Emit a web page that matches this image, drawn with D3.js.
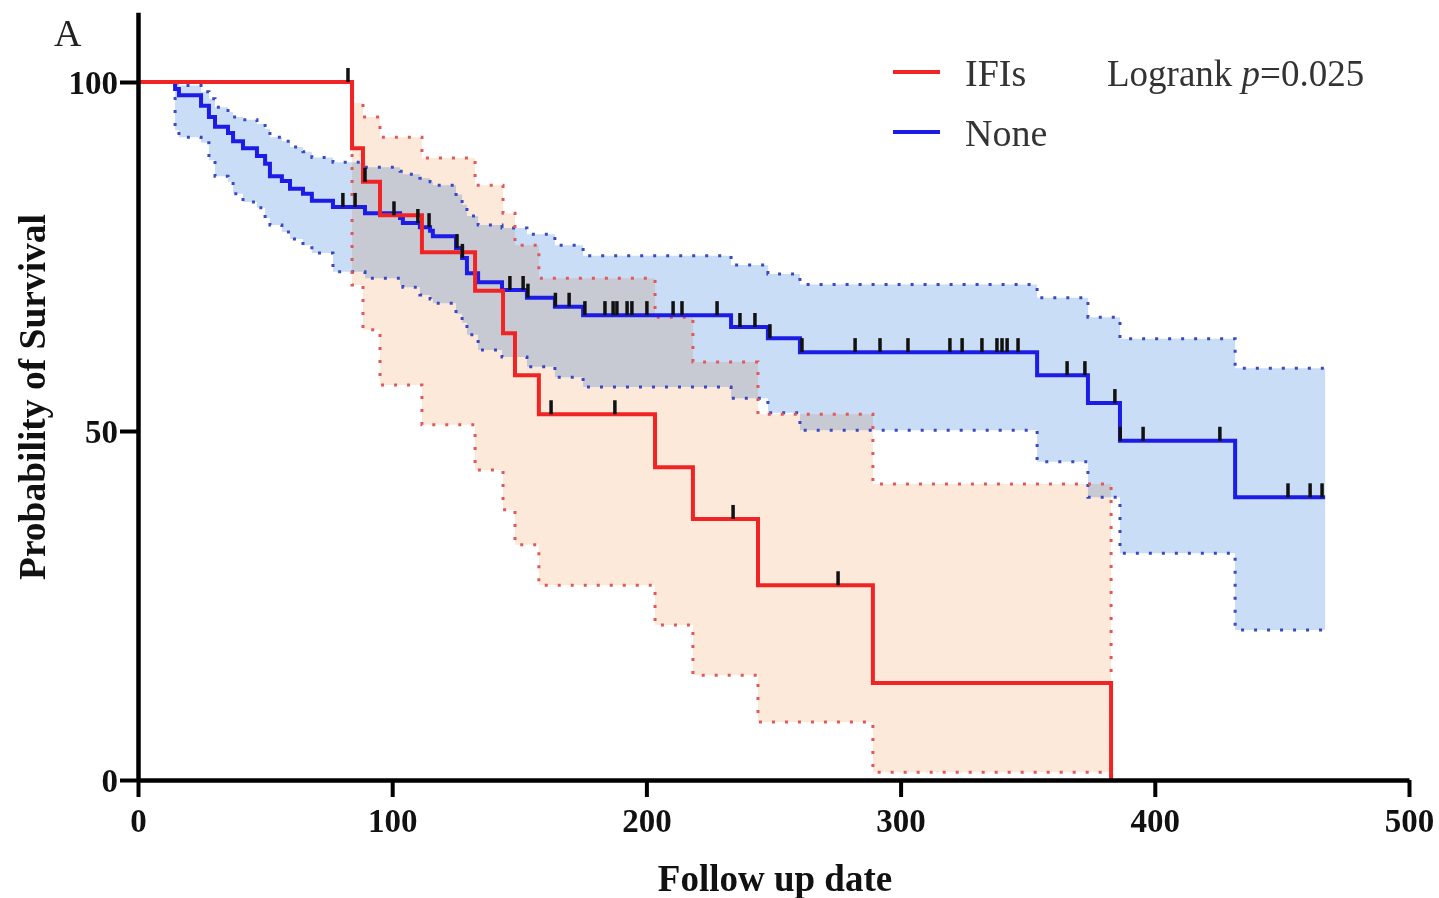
<!DOCTYPE html>
<html>
<head>
<meta charset="utf-8">
<script src="https://cdn.jsdelivr.net/npm/d3@7"></script>
<style>
  body { margin: 0; background: #fff; }
  text { font-family: "Liberation Serif", "Times New Roman", serif; }
</style>
</head>
<body>
<svg id="chart" width="1439" height="898"></svg>
<script>
// IFIs group
const ifiTimes = [84.2, 88.5, 95.2, 111.7, 132.6, 143.6, 148.3, 157.7, 203.4, 218.3, 243.9, 289.1, 382.8];
const ifiSurv = [90.5, 85.7, 80.9, 75.6, 70.1, 64.0, 58.0, 52.4, 44.8, 37.4, 27.9, 13.9, 0];
const ifiUpper = [97.0, 95.0, 92.1, 89.1, 85.2, 81.2, 76.6, 71.9, 66.3, 59.9, 52.4, 42.4, 0];
const ifiLower = [70.9, 64.5, 56.6, 50.9, 44.4, 38.7, 33.7, 27.9, 22.2, 15.0, 8.3, 1.1, 0];
const ifiCensor = [82.6, 89.3, 100.7, 162.5, 187.6, 234.1, 275.4];
const ifiEnd = 382.8;

// None group
const noneTimes = [14.6, 16.1, 24.8, 27.9, 30.3, 35.4, 37.4, 41.3, 46.8, 50.0, 51.9, 56.6, 59.8, 64.9, 68.4, 76.7,
  89.3, 103.1, 104.2, 110.9, 114.9, 116.0, 125.1, 127.5, 129.4, 133.8, 143.2, 153.0, 164.0, 175.1, 233.3, 247.8,
  260.4, 353.7, 373.7, 386.3, 431.6];
const noneSurv = [99.0, 98.1, 96.6, 95.0, 93.6, 92.7, 91.5, 90.5, 89.4, 88.3, 86.5, 85.8, 84.7, 84.0, 83.0, 82.1,
  81.2, 80.5, 79.8, 79.2, 78.7, 77.9, 76.2, 74.8, 72.6, 71.3, 70.2, 69.1, 67.8, 66.6, 64.9, 63.3,
  61.3, 58.0, 54.0, 48.6, 40.5];
const noneUpper = [99.9, 99.5, 98.6, 97.6, 96.4, 95.7, 95.0, 94.6, 94.0, 93.3, 92.1, 91.5, 90.7, 90.0, 89.2, 88.5,
  87.8, 87.2, 86.8, 86.2, 85.7, 85.2, 83.9, 82.4, 80.8, 79.5, 79.1, 78.2, 76.6, 75.1, 73.8, 72.5,
  71.0, 69.1, 66.3, 63.2, 59.0];
const noneLower = [93.1, 92.1, 91.3, 88.8, 86.5, 85.7, 84.0, 82.8, 82.0, 80.5, 79.5, 78.5, 77.5, 76.6, 75.5, 72.8,
  71.9, 70.9, 70.6, 69.5, 68.9, 68.3, 66.8, 65.5, 63.8, 61.6, 60.6, 59.2, 57.7, 56.3, 54.7, 52.6,
  50.1, 45.6, 40.5, 32.5, 21.5];
const noneCensor = [80.6, 85.4, 110.1, 114.5, 125.5, 127.6, 146.3, 151.5, 153.4, 164.2, 169.6, 175.8, 183.7, 186.9,
  188.4, 192.4, 194.3, 200.2, 210.5, 214.0, 227.8, 236.8, 242.7, 248.6, 261.2, 282.1, 291.9, 302.9, 319.4, 324.2,
  332.0, 337.9, 339.9, 341.9, 346.2, 365.5, 372.5, 384.3, 386.4, 395.4, 425.6, 452.4, 461.1, 465.8];
const noneEnd = 467;

const xTicks = [0, 100, 200, 300, 400, 500];
const yTicks = [0, 50, 100];

const svg = d3.select("#chart");
svg.append("rect").attr("width", 1439).attr("height", 898).attr("fill", "#fff");

const x = d3.scaleLinear().domain([0, 500]).range([138, 1409]);
const y = d3.scaleLinear().domain([0, 110]).range([780, 12.2]);

function steps(times, vals, end) {
  let pts = [[0, 100]];
  times.forEach((t, i) => pts.push([t, vals[i]]));
  pts.push([end, vals[vals.length - 1]]);
  return pts;
}
function band(times, lo, hi, end) {
  let pts = [[0, 100, 100]];
  times.forEach((t, i) => pts.push([t, lo[i], hi[i]]));
  pts.push([end, lo[lo.length - 1], hi[hi.length - 1]]);
  return pts;
}
function survAt(times, vals, t) {
  let s = 100;
  times.forEach((tt, i) => { if (tt <= t) s = vals[i]; });
  return s;
}

const line = d3.line().curve(d3.curveStepAfter).x(d => x(d[0])).y(d => y(d[1]));
const area = d3.area().curve(d3.curveStepAfter).x(d => x(d[0])).y0(d => y(d[1])).y1(d => y(d[2]));

const groups = [
  { name: "None", times: noneTimes, surv: noneSurv, up: noneUpper, lo: noneLower, cens: noneCensor, end: noneEnd,
    line: "#1c1ce6", fill: "#c9ddf7", dot: "#3a48c4" },
  { name: "IFIs", times: ifiTimes, surv: ifiSurv, up: ifiUpper, lo: ifiLower, cens: ifiCensor, end: ifiEnd,
    line: "#f02424", fill: "#fde9da", dot: "#e25858" }
];

// confidence bands
groups.forEach(g => {
  svg.append("path")
    .datum(band(g.times, g.lo, g.up, g.end))
    .attr("d", area)
    .attr("fill", g.fill)
    .style("mix-blend-mode", "multiply");
});

// dotted CI limits
groups.forEach(g => {
  [g.up, g.lo].forEach(arr => {
    svg.append("path")
      .datum(steps(g.times, arr, g.end))
      .attr("d", line)
      .attr("fill", "none")
      .attr("stroke", g.dot)
      .attr("stroke-width", 3)
      .attr("stroke-dasharray", "3,10");
  });
});

// survival curves
groups.forEach(g => {
  svg.append("path")
    .datum(steps(g.times, g.surv, g.end))
    .attr("d", line)
    .attr("fill", "none")
    .attr("stroke", g.line)
    .attr("stroke-width", 4);
});

// censor marks
groups.forEach(g => {
  svg.append("g").selectAll("line")
    .data(g.cens)
    .join("line")
    .attr("x1", d => x(d)).attr("x2", d => x(d))
    .attr("y1", d => y(survAt(g.times, g.surv, d)))
    .attr("y2", d => y(survAt(g.times, g.surv, d)) - 14)
    .attr("stroke", "#111")
    .attr("stroke-width", 3.5);
});

// axes
const xAxis = svg.append("g")
  .attr("transform", "translate(0,780)")
  .call(d3.axisBottom(x).tickValues(xTicks).tickSize(17).tickSizeOuter(0).tickPadding(12));
const yAxis = svg.append("g")
  .attr("transform", "translate(138,0)")
  .call(d3.axisLeft(y).tickValues(yTicks).tickSize(18).tickSizeOuter(0).tickPadding(2));
[xAxis, yAxis].forEach(a => {
  a.select(".domain").attr("stroke", "#000").attr("stroke-width", 4.5);
  a.selectAll(".tick line").attr("stroke", "#000").attr("stroke-width", 4);
  a.selectAll(".tick text")
    .attr("fill", "#111")
    .style("font-family", "'Liberation Serif', serif")
    .style("font-size", "33px")
    .style("font-weight", "bold");
});
yAxis.selectAll(".tick text").attr("dy", "0.34em");

// axis titles
svg.append("text")
  .attr("x", 775).attr("y", 891)
  .attr("text-anchor", "middle")
  .attr("font-size", 37).attr("font-weight", "bold").attr("fill", "#111")
  .text("Follow up date");
svg.append("text")
  .attr("transform", "translate(45,397) rotate(-90)")
  .attr("text-anchor", "middle")
  .attr("font-size", 37.5).attr("font-weight", "bold").attr("fill", "#111")
  .text("Probability of Survival");

svg.append("text")
  .attr("x", 54).attr("y", 46)
  .attr("font-size", 38).attr("fill", "#222")
  .text("A");

// legend
const legend = [{ name: "IFIs", color: "#f02424", yy: 72 }, { name: "None", color: "#1c1ce6", yy: 132 }];
legend.forEach(l => {
  svg.append("line")
    .attr("x1", 893).attr("x2", 940).attr("y1", l.yy).attr("y2", l.yy)
    .attr("stroke", l.color).attr("stroke-width", 4);
  svg.append("text")
    .attr("x", 965).attr("y", l.yy + 14)
    .attr("font-size", 38).attr("fill", "#333")
    .text(l.name);
});
const lr = svg.append("text")
  .attr("x", 1107).attr("y", 86)
  .attr("font-size", 37).attr("fill", "#333");
lr.append("tspan").text("Logrank ");
lr.append("tspan").attr("font-style", "italic").text("p");
lr.append("tspan").text("=0.025");
</script>
</body>
</html>
